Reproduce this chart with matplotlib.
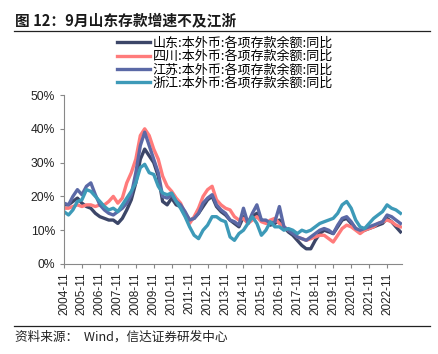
import pandas as pd
import numpy as np
import matplotlib.pyplot as plt
import matplotlib.dates as mdates

plt.rcParams['font.family'] = ['Noto Sans CJK SC', 'DejaVu Sans']

# 季度数据 2004-11 ~ 2023-08 (同比, %)
dates = pd.date_range('2004-11-01', periods=76, freq='3MS')

shandong = [17.5, 17.5, 18.5, 19.5, 18, 17, 16.5, 15, 14, 13.5, 13, 13, 12, 13.5, 16, 19,
            24, 31, 34, 32, 30, 26, 18.5, 17.5, 19.5, 17.5, 17, 15, 13, 13.5, 15, 17,
            19, 20, 17, 15.5, 14.5, 13, 12, 11, 14, 12, 14, 15, 13, 12.5, 11.5, 12,
            13, 11, 9.5, 8.5, 7, 5.5, 4.5, 4.5, 7, 9, 10, 9.5, 9, 11, 13, 13.5,
            12, 10.5, 9.5, 10, 10.5, 11, 11.5, 12, 13.5, 12.5, 11, 9.5]
sichuan = [16.5, 16.5, 17, 17.5, 17, 17.5, 17.5, 17, 17.5, 17.5, 18.5, 20, 18, 19.5, 24, 27,
           31, 38, 40, 38, 34, 31, 26, 23, 21.5, 19.5, 18, 15, 12, 14, 16.5, 20,
           22, 23, 19, 17.5, 16.5, 16, 14, 13, 13.5, 12, 13, 14, 12.5, 12, 13, 13.5,
           12, 11, 10, 9.5, 8, 7.5, 7, 7.5, 8, 8.5, 8.5, 7.5, 6.5, 8.5, 10.5, 11.5,
           11, 10, 9, 10, 10.5, 11, 12, 12.5, 13, 12.5, 11.5, 11]
jiangsu = [18, 17.5, 20, 22, 20.5, 23, 24, 20.5, 17.5, 16, 15, 14.5, 15.5, 16.5, 18, 20.5,
           27, 35, 39, 35, 31, 27, 20, 19.5, 20.5, 18.5, 17.5, 15.5, 13, 13.5, 15, 18,
           19.5, 20.5, 17.5, 16, 15, 13, 12.5, 11.5, 16.5, 12, 15, 17.5, 13, 13, 12, 12.5,
           17, 11, 10, 9, 8, 7.5, 7, 8, 9, 10, 10.5, 10, 9, 11.5, 13.5, 14,
           12.5, 10.5, 10, 10.5, 11, 11.5, 12, 12.5, 14.5, 14, 13, 12]
zhejiang = [15.5, 14.5, 16, 18.5, 19, 22, 21.5, 20, 18.5, 17, 16, 16.5, 15.5, 17.5, 19.5, 21.5,
            24, 28.5, 29.5, 27, 26.5, 23, 21, 20.5, 21, 18.5, 16.5, 14, 11, 8.5, 7.5, 10,
            11.5, 14, 14, 13, 12.5, 8, 7, 9, 10, 12, 14, 12, 8.5, 10, 12.5, 11,
            11, 10, 10.5, 10, 9, 10, 9.5, 10, 11, 12, 12.5, 13, 13.5, 15, 17.5, 18.5,
            16.5, 13, 11, 10.5, 12, 13.5, 14.5, 15.5, 17.5, 16.5, 16, 15]

series = [('山东:本外币:各项存款余额:同比', shandong, '#3c4668'),
          ('四川:本外币:各项存款余额:同比', sichuan, '#ff7b7b'),
          ('江苏:本外币:各项存款余额:同比', jiangsu, '#5b69a6'),
          ('浙江:本外币:各项存款余额:同比', zhejiang, '#3d9ab8')]

fig = plt.figure(figsize=(4.38, 3.54), dpi=100)
ax = fig.add_axes([64 / 438, 1 - 264 / 354, (402 - 64) / 438, (264 - 95) / 354])

for label, vals, color in series:
    ax.plot(dates, vals, color=color, lw=2.4, label=label)

ax.set_xlim(pd.Timestamp('2004-11-01'), pd.Timestamp('2023-09-01'))
ax.set_ylim(0, 50)
ax.set_yticks(np.arange(0, 51, 10))
ax.set_yticklabels([f'{v}%' for v in range(0, 51, 10)], family='Liberation Sans', fontsize=8.7)
xt = pd.date_range('2004-11-01', '2022-11-01', freq='12MS')
ax.set_xticks(xt)
ax.set_xticklabels([d.strftime('%Y-%m') for d in xt], rotation=90,
                   family='Liberation Sans', fontsize=8.5)
ax.tick_params(axis='both', direction='out', length=3, color='#888888', labelcolor='#222222')
ax.tick_params(axis='x', pad=3)
for s in ['top', 'right']:
    ax.spines[s].set_visible(False)
for s in ['left', 'bottom']:
    ax.spines[s].set_color('#888888')
    ax.spines[s].set_linewidth(0.8)

fig.legend(loc='upper left', bbox_to_anchor=(117 / 438, 1 - 37 / 354), frameon=False,
           fontsize=9.4, handlelength=2.5, handletextpad=0.25, labelspacing=0.02,
           borderpad=0, borderaxespad=0)

# 标题和来源
fig.text(15 / 438, 1 - 21 / 354, '图 12：9月山东存款增速不及江浙', fontsize=10.6, fontweight='bold',
         va='center', ha='left', color='#1a1a1a')
fig.add_artist(plt.Line2D([14 / 438, 430 / 438], [1 - 31 / 354, 1 - 31 / 354], color='#222222', lw=0.9))
fig.add_artist(plt.Line2D([14 / 438, 430 / 438], [1 - 326 / 354, 1 - 326 / 354], color='#222222', lw=0.9))
fig.text(15 / 438, 1 - 337 / 354, '资料来源：  Wind，信达证券研发中心', fontsize=9.1,
         va='center', ha='left', color='#222222')

fig.savefig('out.png', dpi=100)
